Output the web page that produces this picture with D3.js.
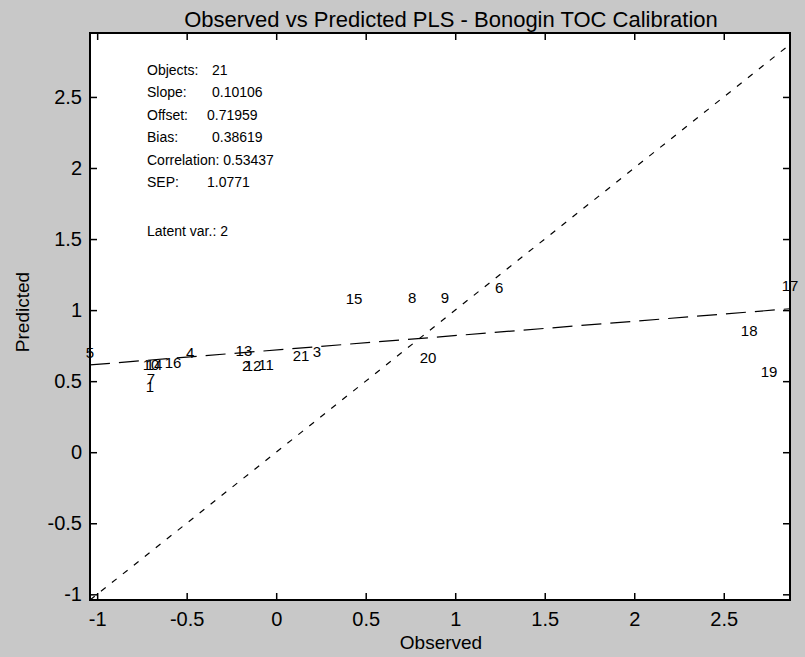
<!DOCTYPE html>
<html>
<head>
<meta charset="utf-8">
<script src="https://cdn.jsdelivr.net/npm/d3@7"></script>
<style>
  html, body { margin: 0; padding: 0; background: #c8c8c8; }
  svg { display: block; }
  text { font-family: "Liberation Sans", Arial, sans-serif; fill: #000; }
</style>
</head>
<body>
<svg id="chart" width="805" height="657"></svg>
<script>
// ---- data ----
const objectIds = ["1","2","3","4","5","6","7","8","9","10","11","12","13","14","15","16","17","18","19","20","21"];
const observed  = [-0.705, -0.168, 0.228, -0.481, -1.04, 1.245, -0.700, 0.759, 0.943, -0.699, -0.057, -0.129, -0.180, -0.682, 0.435, -0.576, 2.87, 2.642, 2.753, 0.848, 0.139];
const predicted = [0.465, 0.613, 0.706, 0.700, 0.700, 1.156, 0.520, 1.092, 1.092, 0.620, 0.620, 0.613, 0.713, 0.620, 1.085, 0.634, 1.170, 0.853, 0.565, 0.670, 0.678];
const xTickValues = [-1, -0.5, 0, 0.5, 1, 1.5, 2, 2.5];
const yTickValues = [-1, -0.5, 0, 0.5, 1, 1.5, 2, 2.5];
const yAxisMax = [2.95];
const fitSlope = [0.10106];
const fitOffset = [0.71959];
const statLabels = ["Objects:", "Slope:", "Offset:", "Bias:", "Correlation:", "SEP:"];
const statValues = ["21", "0.10106", "0.71959", "0.38619", "0.53437", "1.0771"];
const latentText = ["Latent var.: 2"];
const titleText = "Observed vs Predicted PLS - Bonogin TOC Calibration";
const xLabelText = "Observed";
const yLabelText = "Predicted";

// ---- layout ----
const svg = d3.select("#chart");
const L = 90, R = 790, T = 33, B = 600;
const lo = d3.min(observed.concat(predicted));
const hi = d3.max(observed.concat(predicted));
const x = d3.scaleLinear().domain([lo, hi]).range([L, R]);
const y = d3.scaleLinear().domain([lo, yAxisMax[0]]).range([B, T]);

svg.append("rect").attr("x", 0).attr("y", 0).attr("width", 805).attr("height", 657).attr("fill", "#c8c8c8");
svg.append("rect").attr("x", L).attr("y", T).attr("width", R - L).attr("height", B - T).attr("fill", "#fff");

const fmt = d => String(d);
const tickLen = 7;

const gx = svg.append("g").attr("transform", `translate(0,${B})`)
  .call(d3.axisBottom(x).tickValues(xTickValues).tickFormat(fmt).tickSizeInner(-tickLen).tickSizeOuter(0).tickPadding(12));
const gxt = svg.append("g").attr("transform", `translate(0,${T})`)
  .call(d3.axisTop(x).tickValues(xTickValues).tickFormat("").tickSizeInner(-tickLen).tickSizeOuter(0));
const gy = svg.append("g").attr("transform", `translate(${L},0)`)
  .call(d3.axisLeft(y).tickValues(yTickValues).tickFormat(fmt).tickSizeInner(-tickLen).tickSizeOuter(0).tickPadding(8));
const gyr = svg.append("g").attr("transform", `translate(${R},0)`)
  .call(d3.axisRight(y).tickValues(yTickValues).tickFormat("").tickSizeInner(-tickLen).tickSizeOuter(0));

[gx, gxt, gy, gyr].forEach(g => {
  g.select(".domain").remove();
  g.selectAll(".tick line").attr("stroke", "#000").attr("stroke-width", 1.5);
  g.selectAll(".tick text").style("font-size", "20px").attr("fill", "#000");
});

// diagonal target line (y = x)
svg.append("line")
  .attr("x1", x(lo)).attr("y1", y(lo)).attr("x2", x(hi)).attr("y2", y(hi))
  .attr("stroke", "#000").attr("stroke-width", 1.2).attr("stroke-dasharray", "6,8");

// regression line
const xd = x.domain();
svg.append("line")
  .attr("x1", x(xd[0])).attr("y1", y(fitOffset[0] + fitSlope[0] * xd[0]))
  .attr("x2", x(xd[1])).attr("y2", y(fitOffset[0] + fitSlope[0] * xd[1]))
  .attr("stroke", "#000").attr("stroke-width", 1.2).attr("stroke-dasharray", "20,9");

// point labels
svg.append("g").selectAll("text").data(objectIds).join("text")
  .attr("x", (d, i) => x(observed[i]))
  .attr("y", (d, i) => y(predicted[i]))
  .attr("text-anchor", "middle")
  .attr("dominant-baseline", "central")
  .style("font-size", "15px")
  .text(d => d);

// frame
svg.append("rect").attr("x", L).attr("y", T).attr("width", R - L).attr("height", B - T)
  .attr("fill", "none").attr("stroke", "#000").attr("stroke-width", 2);

// stats text
const sx = 147, sy0 = 70, sdy = 22.4;
const valX = [212, 212, 207, 212, null, 207];
statLabels.forEach((lab, i) => {
  if (i === 4) {
    svg.append("text").attr("x", sx).attr("y", sy0 + i * sdy).attr("dominant-baseline", "central")
      .style("font-size", "14px").text(lab + " " + statValues[i]);
  } else {
    svg.append("text").attr("x", sx).attr("y", sy0 + i * sdy).attr("dominant-baseline", "central")
      .style("font-size", "14px").text(lab);
    svg.append("text").attr("x", valX[i]).attr("y", sy0 + i * sdy).attr("dominant-baseline", "central")
      .style("font-size", "14px").text(statValues[i]);
  }
});
svg.append("text").attr("x", sx).attr("y", 231).attr("dominant-baseline", "central")
  .style("font-size", "14px").text(latentText[0]);

// title & axis labels
svg.append("text").attr("x", 451).attr("y", 19).attr("text-anchor", "middle").attr("dominant-baseline", "central")
  .style("font-size", "22px").text(titleText);
svg.append("text").attr("x", 441).attr("y", 642).attr("text-anchor", "middle").attr("dominant-baseline", "central")
  .style("font-size", "19px").text(xLabelText);
svg.append("text").attr("transform", "translate(22,312) rotate(-90)").attr("text-anchor", "middle").attr("dominant-baseline", "central")
  .style("font-size", "19px").text(yLabelText);
</script>
</body>
</html>
